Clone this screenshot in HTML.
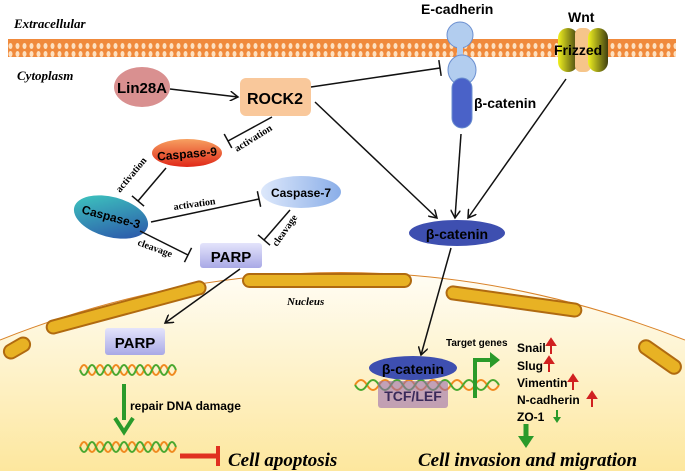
<!DOCTYPE html>
<html><head><meta charset="utf-8"><style>body{margin:0;background:#fff}svg{display:block}</style></head><body>
<svg width="685" height="471" viewBox="0 0 685 471" xmlns="http://www.w3.org/2000/svg" font-family="Liberation Sans, sans-serif">
<defs>
<pattern id="mem" width="7" height="20" patternUnits="userSpaceOnUse"><rect width="7" height="20" fill="#f08a3c"/><ellipse cx="3.5" cy="6" rx="2" ry="3" fill="#fde0c0"/><ellipse cx="3.5" cy="14" rx="2" ry="3" fill="#fde0c0"/></pattern>
<linearGradient id="nuc" x1="0" y1="0" x2="0" y2="1"><stop offset="0" stop-color="#fffdf5"/><stop offset="1" stop-color="#fde79e"/></linearGradient>
<linearGradient id="c9" x1="0" y1="0" x2="0" y2="1"><stop offset="0" stop-color="#f7a060"/><stop offset="1" stop-color="#e02818"/></linearGradient>
<linearGradient id="c3" x1="0" y1="0" x2="1" y2="1"><stop offset="0" stop-color="#3fd0c0"/><stop offset="1" stop-color="#2a4aa8"/></linearGradient>
<linearGradient id="c7" x1="0" y1="0" x2="1" y2="0"><stop offset="0" stop-color="#dde8fb"/><stop offset="1" stop-color="#8aaee8"/></linearGradient>
<linearGradient id="parp" x1="0" y1="0" x2="0" y2="1"><stop offset="0" stop-color="#e4e4fb"/><stop offset="1" stop-color="#a9a9e6"/></linearGradient>
<linearGradient id="fz" x1="0" y1="0" x2="1" y2="0"><stop offset="0" stop-color="#f0f020"/><stop offset="1" stop-color="#404010"/></linearGradient>
<marker id="ar" markerWidth="10" markerHeight="10" refX="8" refY="5" orient="auto" markerUnits="userSpaceOnUse"><path d="M0,0 L8,5 L0,10" fill="none" stroke="#111" stroke-width="1.5"/></marker>
<marker id="tb" markerWidth="4" markerHeight="16" refX="2" refY="8" orient="auto" markerUnits="userSpaceOnUse"><line x1="2" y1="0" x2="2" y2="16" stroke="#111" stroke-width="1.5"/></marker>
</defs>
<text x="14" y="28" font-family="Liberation Serif" font-style="italic" font-weight="bold" font-size="13">Extracellular</text>
<rect x="8" y="39" width="668" height="18" fill="url(#mem)"/>
<text x="17" y="80" font-family="Liberation Serif" font-style="italic" font-weight="bold" font-size="13">Cytoplasm</text>
<!-- nucleus -->
<path d="M0,340 Q340,205 685,340 L685,471 L0,471 Z" fill="url(#nuc)"/>
<path d="M0,340 Q340,205 685,340" fill="none" stroke="#d9832a" stroke-width="1"/>
<g fill="#e8b224" stroke="#b06a10" stroke-width="2">
<rect x="44" y="301" width="164" height="13" rx="6.5" transform="rotate(-15 126 307)"/>
<rect x="243" y="274" width="168" height="13" rx="6.5"/>
<rect x="446" y="295" width="136" height="13" rx="6.5" transform="rotate(8 514 301)"/>
<rect x="3" y="341" width="28" height="14" rx="7" transform="rotate(-30 17 348)"/>
<rect x="636" y="350" width="48" height="14" rx="7" transform="rotate(35 660 357)"/>
</g>
<text x="287" y="305" font-family="Liberation Serif" font-style="italic" font-weight="bold" font-size="11">Nucleus</text>
<!-- E-cadherin -->
<text x="421" y="14" font-weight="bold" font-size="14">E-cadherin</text>
<circle cx="460" cy="35" r="13" fill="#b2cdef" stroke="#6b8fd0"/>
<rect x="457" y="45" width="6" height="12" fill="#b2cdef"/>
<ellipse cx="462" cy="70" rx="14" ry="15" fill="#b2cdef" stroke="#6b8fd0"/>
<rect x="452" y="78" width="20" height="50" rx="10" fill="#4a62c8" stroke="#6b8fd0"/>
<text x="474" y="108" font-weight="bold" font-size="14">β-catenin</text>
<!-- Wnt Frizzed -->
<text x="568" y="22" font-weight="bold" font-size="14">Wnt</text>
<rect x="558" y="28" width="20" height="44" rx="10" fill="url(#fz)"/>
<rect x="575" y="28" width="16" height="44" rx="6" fill="#f6c58a"/>
<rect x="588" y="28" width="20" height="44" rx="10" fill="url(#fz)"/>
<text x="554" y="55" font-weight="bold" font-size="14">Frizzed</text>
<!-- nodes -->
<ellipse cx="142" cy="87" rx="28" ry="20" fill="#d99090"/>
<text x="142" y="93" text-anchor="middle" font-weight="bold" font-size="15">Lin28A</text>
<rect x="240" y="78" width="71" height="38" rx="6" fill="#f9c89b"/>
<text x="275" y="104" text-anchor="middle" font-weight="bold" font-size="16">ROCK2</text>
<ellipse cx="187" cy="153" rx="35" ry="14" fill="url(#c9)"/>
<text x="187" y="158" text-anchor="middle" font-weight="bold" font-size="12" transform="rotate(-5 187 153)">Caspase-9</text>
<ellipse cx="111" cy="217" rx="38" ry="20" fill="url(#c3)" transform="rotate(15 111 217)"/>
<text x="111" y="221" text-anchor="middle" font-weight="bold" font-size="12" transform="rotate(15 111 217)">Caspase-3</text>
<ellipse cx="301" cy="192" rx="40" ry="16" fill="url(#c7)"/>
<text x="301" y="197" text-anchor="middle" font-weight="bold" font-size="12">Caspase-7</text>
<rect x="200" y="243" width="62" height="25" rx="3" fill="url(#parp)"/>
<text x="231" y="262" text-anchor="middle" font-weight="bold" font-size="15">PARP</text>
<ellipse cx="457" cy="233" rx="48" ry="13" fill="#3e4fb0"/>
<text x="457" y="239" text-anchor="middle" font-weight="bold" font-size="14">β-catenin</text>
<!-- edges -->
<g stroke="#111" stroke-width="1.5" fill="none">
<line x1="170" y1="89" x2="238" y2="97" marker-end="url(#ar)"/>
<line x1="311" y1="87" x2="440" y2="68" marker-end="url(#tb)"/>
<line x1="315" y1="102" x2="437" y2="218" marker-end="url(#ar)"/>
<line x1="461" y1="134" x2="455" y2="218" marker-end="url(#ar)"/>
<line x1="566" y1="79" x2="468" y2="218" marker-end="url(#ar)"/>
<line x1="451" y1="248" x2="421" y2="355" marker-end="url(#ar)"/>
<line x1="240" y1="269" x2="165" y2="323" marker-end="url(#ar)"/>
<line x1="272" y1="117" x2="228" y2="141" marker-end="url(#tb)"/>
<line x1="166" y1="168" x2="138" y2="201" marker-end="url(#tb)"/>
<line x1="151" y1="222" x2="259" y2="199" marker-end="url(#tb)"/>
<line x1="140" y1="231" x2="188" y2="255" marker-end="url(#tb)"/>
<line x1="290" y1="210" x2="264" y2="240" marker-end="url(#tb)"/>
</g>
<g font-family="Liberation Serif" font-weight="bold" font-size="10">
<text x="237" y="152" transform="rotate(-32 237 152)">activation</text>
<text x="120" y="193" transform="rotate(-50 120 193)">activation</text>
<text x="174" y="210" transform="rotate(-8 174 210)">activation</text>
<text x="137" y="245" transform="rotate(20 137 245)">cleavage</text>
<text x="277" y="247" transform="rotate(-55 277 247)">cleavage</text>
</g>
<!-- nucleus content left -->
<rect x="105" y="328" width="60" height="27" rx="3" fill="url(#parp)"/>
<text x="135" y="348" text-anchor="middle" font-weight="bold" font-size="15">PARP</text>
<g fill="none" stroke-width="2">
<path d="M80,370 q4,-10 8,0 t8,0 t8,0 t8,0 t8,0 t8,0 t8,0 t8,0 t8,0 t8,0 t8,0 t8,0" stroke="#f08a20"/>
<path d="M80,370 q4,10 8,0 t8,0 t8,0 t8,0 t8,0 t8,0 t8,0 t8,0 t8,0 t8,0 t8,0 t8,0" stroke="#4aa830"/>
<path d="M80,447 q4,-10 8,0 t8,0 t8,0 t8,0 t8,0 t8,0 t8,0 t8,0 t8,0 t8,0 t8,0 t8,0" stroke="#f08a20"/>
<path d="M80,447 q4,10 8,0 t8,0 t8,0 t8,0 t8,0 t8,0 t8,0 t8,0 t8,0 t8,0 t8,0 t8,0" stroke="#4aa830"/>
<path d="M355,385 q6,-10 12,0 t12,0 t12,0 t12,0 t12,0 t12,0 t12,0 t12,0 t12,0 t12,0 t12,0 t12,0" stroke="#f08a20"/>
<path d="M355,385 q6,10 12,0 t12,0 t12,0 t12,0 t12,0 t12,0 t12,0 t12,0 t12,0 t12,0 t12,0 t12,0" stroke="#4aa830"/>
</g>
<line x1="124" y1="384" x2="124" y2="420" stroke="#2a9a2a" stroke-width="4"/>
<path d="M115,418 L124,432 L133,418" fill="none" stroke="#2a9a2a" stroke-width="4"/>
<text x="130" y="410" font-weight="bold" font-size="12">repair DNA damage</text>
<line x1="180" y1="456" x2="218" y2="456" stroke="#e03020" stroke-width="5"/>
<line x1="218" y1="446" x2="218" y2="466" stroke="#e03020" stroke-width="4"/>
<text x="228" y="466" font-family="Liberation Serif" font-style="italic" font-weight="bold" font-size="19">Cell apoptosis</text>
<!-- right -->
<ellipse cx="413" cy="368" rx="44" ry="12" fill="#3e4fb0"/>
<text x="413" y="374" text-anchor="middle" font-weight="bold" font-size="14">β-catenin</text>
<rect x="378" y="381" width="70" height="27" rx="3" fill="#9a6cae" opacity="0.6"/>
<text x="413" y="401" text-anchor="middle" font-weight="bold" font-size="14" fill="#3a2a5a">TCF/LEF</text>
<text x="446" y="346" font-weight="bold" font-size="10">Target genes</text>
<path d="M475,398 L475,360 L492,360" fill="none" stroke="#2a9a2a" stroke-width="4"/>
<path d="M490,352 L500,360 L490,368 Z" fill="#2a9a2a"/>
<g font-weight="bold" font-size="12">
<text x="517" y="352">Snail</text><text x="517" y="370">Slug</text><text x="517" y="387">Vimentin</text><text x="517" y="404">N-cadherin</text><text x="517" y="421">ZO-1</text>
</g>
<g stroke="#d02020" stroke-width="2" fill="#d02020">
<line x1="551" y1="354" x2="551" y2="344"/><path d="M547,345 L551,339 L555,345Z"/>
<line x1="549" y1="372" x2="549" y2="362"/><path d="M545,363 L549,357 L553,363Z"/>
<line x1="573" y1="390" x2="573" y2="380"/><path d="M569,381 L573,375 L577,381Z"/>
<line x1="592" y1="407" x2="592" y2="397"/><path d="M588,398 L592,392 L596,398Z"/>
</g>
<line x1="557" y1="410" x2="557" y2="418" stroke="#2a9a2a" stroke-width="2"/>
<path d="M553,417 L557,423 L561,417Z" fill="#2a9a2a"/>
<line x1="526" y1="424" x2="526" y2="438" stroke="#2a9a2a" stroke-width="5"/>
<path d="M518,436 L526,448 L534,436 Z" fill="#2a9a2a"/>
<text x="418" y="466" font-family="Liberation Serif" font-style="italic" font-weight="bold" font-size="19">Cell invasion and migration</text>
</svg>
</body></html>
